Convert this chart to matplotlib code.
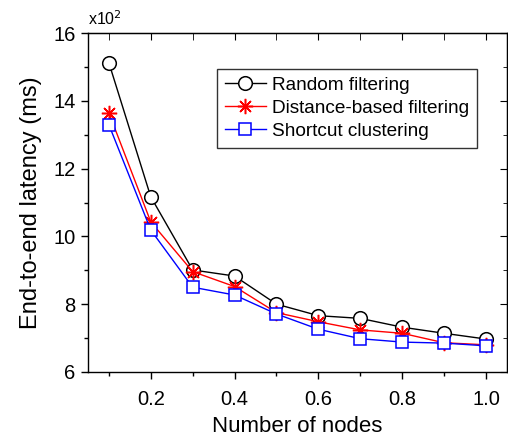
import matplotlib
matplotlib.use("Agg")
import matplotlib.pyplot as plt
from matplotlib.ticker import MultipleLocator

plt.rcParams['font.family'] = ['Liberation Sans', 'DejaVu Sans']

x = [0.1, 0.2, 0.3, 0.4, 0.5, 0.6, 0.7, 0.8, 0.9, 1.0]
random_filtering = [15.13, 11.17, 9.01, 8.83, 8.00, 7.66, 7.58, 7.32, 7.14, 6.97]
distance_filtering = [13.65, 10.43, 8.96, 8.52, 7.75, 7.48, 7.24, 7.14, 6.86, 6.80]
shortcut_clustering = [13.30, 10.19, 8.50, 8.27, 7.71, 7.26, 6.98, 6.88, 6.85, 6.77]

xticks = [0.2, 0.4, 0.6, 0.8, 1.0]
yticks = [6, 8, 10, 12, 14, 16]

fig = plt.figure(figsize=(5.08, 4.36), dpi=100)
ax = fig.add_axes([0.173, 0.147, 0.825, 0.777])

ax.plot(x, random_filtering, color='black', lw=1, marker='o', ms=9.8,
        mfc='white', mec='black', mew=1.1, label='Random filtering')
ax.plot(x, distance_filtering, color='red', lw=1, marker=(8, 2, 0), ms=11,
        mfc='red', mec='red', mew=1.1, label='Distance-based filtering')
ax.plot(x, shortcut_clustering, color='blue', lw=1, marker='s', ms=8.8,
        mfc='white', mec='blue', mew=1.1, label='Shortcut clustering')

ax.set_xlim(0.05, 1.05)
ax.set_ylim(6, 16)
ax.set_xticks(xticks)
ax.set_xticklabels([f"{v:.1f}" for v in xticks])
ax.set_yticks(yticks)
ax.set_yticklabels([str(v) for v in yticks])
ax.xaxis.set_minor_locator(MultipleLocator(0.1))
ax.yaxis.set_minor_locator(MultipleLocator(1))

ax.tick_params(axis='both', which='major', direction='out', length=5, width=1,
               labelsize=14.5)
ax.tick_params(axis='x', which='major', pad=8)
ax.tick_params(axis='y', which='major', pad=4)
ax.tick_params(axis='both', which='minor', direction='out', length=3, width=1)
ax2 = ax.secondary_xaxis('top')
ax2.set_xticks(xticks)
ax2.xaxis.set_minor_locator(MultipleLocator(0.1))
ax2.tick_params(axis='x', which='both', direction='in', length=5, labeltop=False)
ax2.set_xticklabels([])
ax3 = ax.secondary_yaxis('right')
ax3.set_yticks(yticks)
ax3.yaxis.set_minor_locator(MultipleLocator(1))
ax3.tick_params(axis='y', which='major', direction='in', length=5)
ax3.tick_params(axis='y', which='minor', direction='in', length=3)
ax3.set_yticklabels([])

for s in ax.spines.values():
    s.set_linewidth(1)

ax.set_xlabel('Number of nodes', fontsize=16, labelpad=5)
ax.set_ylabel('End-to-end latency (ms)', fontsize=17, labelpad=8)

fig.text(0.173, 0.935, r'x10$^{2}$', fontsize=11.5, ha='left', va='bottom')

leg = ax.legend(loc='upper right', bbox_to_anchor=(0.928, 0.894), fontsize=13.7,
                frameon=True, fancybox=False, edgecolor='black',
                handlelength=2.2, handletextpad=0.3, borderpad=0.4,
                labelspacing=0.3, borderaxespad=0)
leg.get_frame().set_linewidth(1)

fig.savefig('out.png', dpi=100)
